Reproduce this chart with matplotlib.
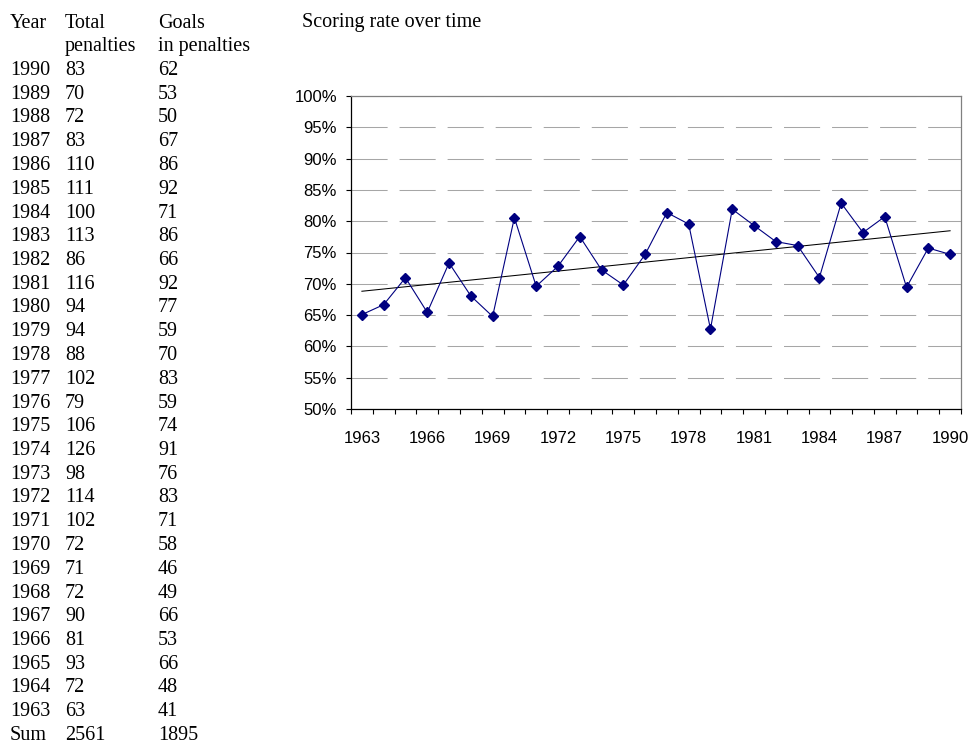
import numpy as np
import matplotlib
matplotlib.use("Agg")
import matplotlib.pyplot as plt
from matplotlib.ticker import FixedLocator, FuncFormatter

# Penalty table, listed newest year first as in the sheet
years = [1990, 1989, 1988, 1987, 1986, 1985, 1984, 1983, 1982, 1981,
         1980, 1979, 1978, 1977, 1976, 1975, 1974, 1973, 1972, 1971,
         1970, 1969, 1968, 1967, 1966, 1965, 1964, 1963]
total_penalties = [83, 70, 72, 83, 110, 111, 100, 113, 86, 116,
                   94, 94, 88, 102, 79, 106, 126, 98, 114, 102,
                   72, 71, 72, 90, 81, 93, 72, 63]
goals_in_penalties = [62, 53, 50, 67, 86, 92, 71, 86, 66, 92,
                      77, 59, 70, 83, 59, 74, 91, 76, 83, 71,
                      58, 46, 49, 66, 53, 66, 48, 41]
sum_label = "Sum"
sum_total = 2561
sum_goals = 1895

header_col1 = ["Year", ""]
header_col2 = ["Total", "penalties"]
header_col3 = ["Goals", "in penalties"]
chart_title = "Scoring rate over time"

W, H = 970, 744
plt.rcParams["lines.scale_dashes"] = False
fig = plt.figure(figsize=(W / 100, H / 100), dpi=100)

serif = "Liberation Serif"
sans = "Liberation Sans"
fs_table = 14.5


def put(x_px, y_px, s, **kw):
    fig.text(x_px / W, 1 - y_px / H, s, ha="left", va="baseline",
             family=serif, fontsize=fs_table, **kw)


# ---- table on the left ----
row_h = 23.75
col_x = [10, 65, 158]
base0 = 27.5
for r in range(2):
    y = base0 + r * row_h
    put(col_x[0], y, header_col1[r])
    put(col_x[1], y, header_col2[r])
    put(col_x[2], y, header_col3[r])
for i, (yr, tp, gp) in enumerate(zip(years, total_penalties, goals_in_penalties)):
    y = base0 + (i + 2) * row_h
    put(col_x[0], y, str(yr))
    put(col_x[1], y, str(tp))
    put(col_x[2], y, str(gp))
y = base0 + (len(years) + 2) * row_h
put(col_x[0], y, sum_label)
put(col_x[1], y, str(sum_total))
put(col_x[2], y, str(sum_goals))

# chart heading
put(302, base0, chart_title)

# ---- scoring-rate chart ----
chron_years = years[::-1]
rate = (np.array(goals_in_penalties[::-1], dtype=float)
        / np.array(total_penalties[::-1], dtype=float))
idx = np.arange(len(chron_years))

left, right, top, bottom = 351, 961, 96, 409
ax = fig.add_axes([left / W, 1 - bottom / H, (right - left) / W, (bottom - top) / H])

navy = "#000080"
ax.plot(idx, rate, color=navy, lw=0.8, marker="D", ms=5.4,
        markerfacecolor=navy, markeredgecolor=navy, zorder=4, clip_on=False)

slope, icpt = np.polyfit(idx, rate, 1)
ax.plot(idx, slope * idx + icpt, color="black", lw=0.75, zorder=3)

ax.set_xlim(-0.5, len(chron_years) - 0.5)
ax.set_ylim(0.5, 1.0)

# horizontal dashed gridlines
ax.set_axisbelow(True)
ax.yaxis.grid(True, color="#a6a6a6", lw=0.75, linestyle=(0, (26, 8.6)))

# y axis
yt = np.arange(0.50, 1.0001, 0.05)
ax.set_yticks(yt)
ax.yaxis.set_major_formatter(FuncFormatter(lambda v, p: f"{v * 100:.0f}%"))
ax.tick_params(axis="y", direction="out", length=3.6, width=0.8, pad=6.5,
               labelsize=12, colors="black")

# x axis: category boundaries as ticks, labels every third year
ax.xaxis.set_minor_locator(FixedLocator(np.arange(-0.5, len(chron_years), 1.0)))
label_idx = idx[::3]
ax.set_xticks(label_idx)
ax.set_xticklabels([str(chron_years[i]) for i in label_idx])
ax.tick_params(axis="x", which="major", length=0, pad=16, labelsize=12)
ax.tick_params(axis="x", which="minor", direction="out", length=3.6, width=0.8)

for lab in ax.get_xticklabels() + ax.get_yticklabels():
    lab.set_family(sans)

for side in ("left", "bottom"):
    ax.spines[side].set_color("black")
    ax.spines[side].set_linewidth(0.9)
for side in ("top", "right"):
    ax.spines[side].set_color("#808080")
    ax.spines[side].set_linewidth(0.9)

fig.savefig("out.png", dpi=100)
